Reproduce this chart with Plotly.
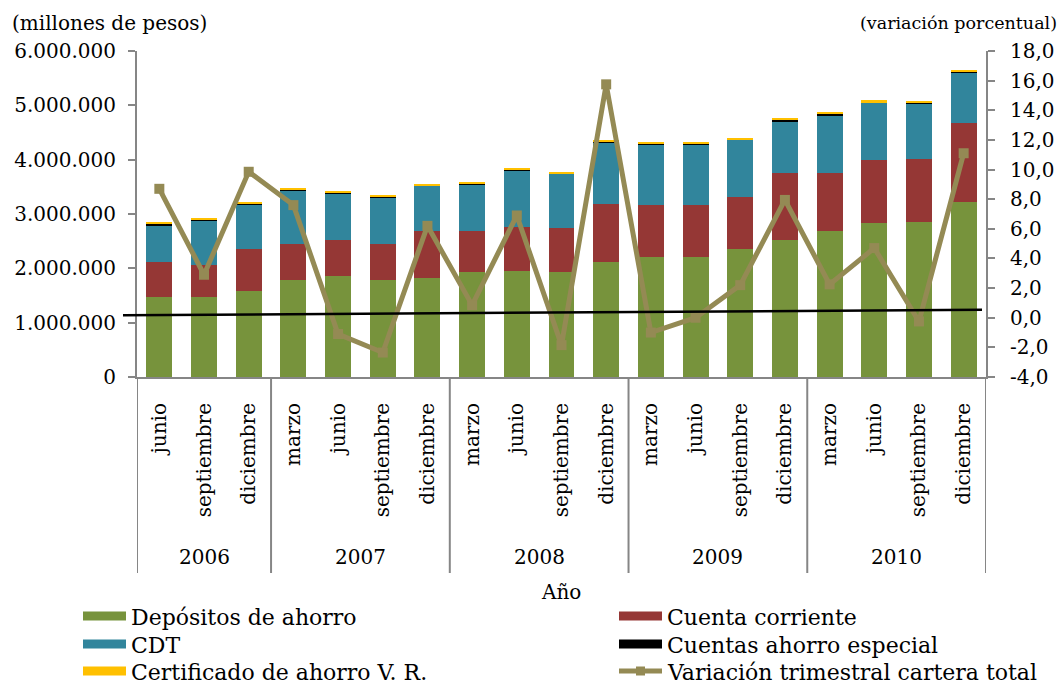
import plotly.graph_objects as go

# ---------------- data ----------------
meses = ["junio", "septiembre", "diciembre",
         "marzo", "junio", "septiembre", "diciembre",
         "marzo", "junio", "septiembre", "diciembre",
         "marzo", "junio", "septiembre", "diciembre",
         "marzo", "junio", "septiembre", "diciembre"]
anios = ["2006", "2007", "2008", "2009", "2010"]
anio_centros = [1, 4.5, 8.5, 12.5, 16.5]
separadores = [-0.5, 2.5, 6.5, 10.5, 14.5, 18.5]

depositos = [1480000, 1480000, 1580000, 1790000, 1850000, 1790000, 1820000,
             1930000, 1960000, 1930000, 2120000, 2200000, 2200000, 2350000,
             2530000, 2680000, 2830000, 2860000, 3220000]
cuenta_corriente = [635000, 590000, 780000, 650000, 670000, 650000, 860000,
                    750000, 810000, 810000, 1070000, 960000, 960000, 960000,
                    1230000, 1080000, 1170000, 1160000, 1450000]
cdt = [680000, 810000, 810000, 1000000, 860000, 870000, 840000,
       870000, 1030000, 1000000, 1120000, 1120000, 1120000, 1060000,
       940000, 1050000, 1050000, 1010000, 930000]
ahorro_especial = [30000, 10000, 30000, 10000, 20000, 10000, 10000,
                   10000, 10000, 10000, 30000, 10000, 10000, 10000,
                   30000, 40000, 10000, 20000, 20000]
certificado = [25000, 30000, 25000, 25000, 30000, 30000, 30000,
               25000, 25000, 25000, 25000, 25000, 25000, 25000,
               25000, 25000, 30000, 30000, 25000]
variacion = [8.7, 2.9, 9.85, 7.6, -1.1, -2.35, 6.2, 0.85, 6.9, -1.85,
             15.75, -1.0, 0.0, 2.2, 7.95, 2.25, 4.7, -0.25, 11.1]
# stray black reference line (right-axis values at its two ends)
linea_negra_y2 = [0.17, 0.53]

y_ticks = [0, 1000000, 2000000, 3000000, 4000000, 5000000, 6000000]
y2_ticks = [-4, -2, 0, 2, 4, 6, 8, 10, 12, 14, 16, 18]
y2_ticktext = ["-4,0", "-2,0", "0,0", "2,0", "4,0", "6,0", "8,0",
               "10,0", "12,0", "14,0", "16,0", "18,0"]

series = [
    ("Depósitos de ahorro", depositos, "#77933C"),
    ("Cuenta corriente", cuenta_corriente, "#953735"),
    ("CDT", cdt, "#31859C"),
    ("Cuentas ahorro especial", ahorro_especial, "#000000"),
    ("Certificado de ahorro V. R.", certificado, "#FFC000"),
]
line_name = "Variación trimestral cartera total"
line_color = "#948A54"

# ---------------- layout helpers ----------------
W, H = 1060, 685
L, R, T, B = 137, 986, 51, 377
FONT = "DejaVu Serif"


def px(xp):
    return (xp - L) / (R - L)


def py(yp):
    return (B - yp) / (B - T)


x = list(range(len(meses)))
fig = go.Figure()
for name, vals, col in series:
    fig.add_trace(go.Bar(x=x, y=vals, name=name, marker_color=col,
                         marker_line_width=0, showlegend=False, yaxis="y"))

fig.add_trace(go.Scatter(x=x, y=variacion, name=line_name, yaxis="y2",
                         mode="lines+markers",
                         line=dict(color=line_color, width=5),
                         marker=dict(symbol="square", size=10, color=line_color),
                         showlegend=False))

shapes = []
# group separators
for s in separadores:
    shapes.append(dict(type="line", xref="x", yref="paper", x0=s, x1=s,
                       y0=0, y1=py(573), line=dict(color="#868686", width=2),
                       layer="above"))
# stray black line
shapes.append(dict(type="line", xref="paper", yref="y2", x0=px(123), x1=px(982),
                   y0=linea_negra_y2[0], y1=linea_negra_y2[1],
                   line=dict(color="#000000", width=2.5), layer="above"))

annotations = []
for a, c in zip(anios, anio_centros):
    annotations.append(dict(text=a, x=c, xref="x", y=py(557), yref="paper",
                            showarrow=False, xanchor="center", yanchor="middle",
                            font=dict(family=FONT, size=20, color="#000")))
annotations.append(dict(text="Año", x=px(561), xref="paper", y=py(592), yref="paper",
                        showarrow=False, xanchor="center", yanchor="middle",
                        font=dict(family=FONT, size=20, color="#000")))
annotations.append(dict(text="(millones de pesos)", x=px(10), xref="paper",
                        y=py(23), yref="paper", showarrow=False,
                        xanchor="left", yanchor="middle",
                        font=dict(family=FONT, size=20, color="#000")))
annotations.append(dict(text="(variación porcentual)", x=px(1059), xref="paper",
                        y=py(23), yref="paper", showarrow=False,
                        xanchor="right", yanchor="middle",
                        font=dict(family=FONT, size=17.5, color="#000")))

# custom legend
legend_items = [(series[0][0], series[0][2], 0, 0), (series[1][0], series[1][2], 1, 0),
                (series[2][0], series[2][2], 0, 1), (series[3][0], series[3][2], 1, 1),
                (series[4][0], series[4][2], 0, 2), (line_name, line_color, 1, 2)]
col_x = [83, 619]
row_y = [616, 644, 671]
for name, col, c, r in legend_items:
    x0 = col_x[c]
    yc = row_y[r]
    if name == line_name:
        shapes.append(dict(type="line", xref="paper", yref="paper",
                           x0=px(x0), x1=px(x0 + 43), y0=py(yc), y1=py(yc),
                           line=dict(color=col, width=5)))
        shapes.append(dict(type="rect", xref="paper", yref="paper",
                           x0=px(x0 + 17), x1=px(x0 + 26), y0=py(yc + 4.5),
                           y1=py(yc - 4.5), fillcolor=col, line_width=0))
    else:
        shapes.append(dict(type="rect", xref="paper", yref="paper",
                           x0=px(x0), x1=px(x0 + 43), y0=py(yc + 4.5),
                           y1=py(yc - 4.5), fillcolor=col, line_width=0))
    annotations.append(dict(text=name, x=px(x0 + 46), xref="paper",
                            y=py(yc + 1), yref="paper", showarrow=False,
                            xanchor="left", yanchor="middle",
                            font=dict(family=FONT, size=22, color="#000")))

fig.update_layout(
    width=W, height=H,
    margin=dict(l=L, r=W - R, t=T, b=H - B, pad=0),
    paper_bgcolor="white", plot_bgcolor="white",
    barmode="stack", bargap=0.42,
    separators=",.",
    font=dict(family=FONT, size=20, color="#000"),
    showlegend=False,
    xaxis=dict(range=[-0.5, 18.5], tickvals=x, ticktext=meses, tickangle=-90,
               ticks="", showline=True, linecolor="#868686", linewidth=2,
               showgrid=False, zeroline=False, ticklabelstandoff=16,
               automargin=False,
               tickfont=dict(family=FONT, size=20, color="#000")),
    yaxis=dict(range=[0, 6000000], tickvals=y_ticks,
               tickformat=",.0f", ticks="outside", ticklen=7, tickwidth=2,
               tickcolor="#868686", showline=True, linecolor="#868686",
               linewidth=2, showgrid=False, zeroline=False,
               ticklabelstandoff=8, automargin=False,
               tickfont=dict(family=FONT, size=20, color="#000")),
    yaxis2=dict(range=[-4, 18], tickvals=y2_ticks, ticktext=y2_ticktext,
                overlaying="y", side="right",
                ticks="outside", ticklen=7, tickwidth=2, tickcolor="#868686",
                showline=True, linecolor="#868686", linewidth=2,
                showgrid=False, zeroline=False, ticklabelstandoff=11,
                automargin=False,
                tickfont=dict(family=FONT, size=20, color="#000")),
    shapes=shapes,
    annotations=annotations,
)

fig.write_html("out.html",
               config={"displayModeBar": False},
               post_script="document.body.style.margin='0';"
                           "document.body.style.overflow='hidden';")
